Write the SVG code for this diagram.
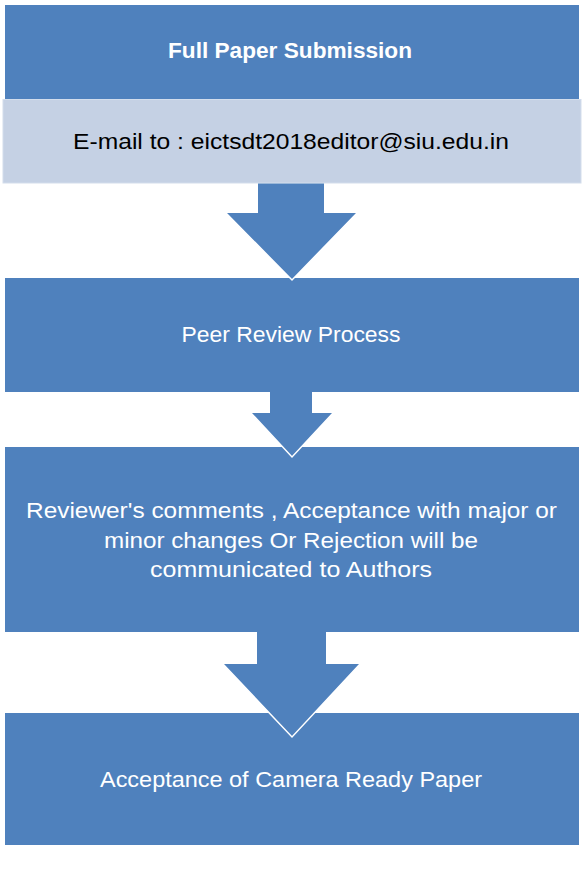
<svg xmlns="http://www.w3.org/2000/svg" width="584" height="877" viewBox="0 0 584 877">
<style>
.box{fill:#4F81BD}
.light{fill:#C5D1E4;stroke:#D3DDEC;stroke-width:1}
.arrow{fill:#4F81BD}
.edge{fill:none;stroke:#FFFFFF;stroke-width:1.5}
.t{font-family:"Liberation Sans",Arial,sans-serif;font-size:22px;fill:#FFFFFF;text-anchor:middle}
.b{font-weight:bold}
.dark{fill:#000000}
</style>
<rect width="584" height="877" fill="#FFFFFF"/>
<g id="node-submission">
<rect class="box" x="5" y="5" width="574" height="95"/>
<text class="t b" x="290" y="58" textLength="244" lengthAdjust="spacingAndGlyphs">Full Paper Submission</text>
</g>
<g id="node-email">
<rect class="light" x="3" y="99.5" width="578" height="83.5"/>
<text class="t dark" x="291" y="149" textLength="436" lengthAdjust="spacingAndGlyphs">E-mail to : eictsdt2018editor@siu.edu.in</text>
</g>
<g id="node-review">
<rect class="box" x="5" y="278" width="574" height="114"/>
<text class="t" x="291" y="342" textLength="219" lengthAdjust="spacingAndGlyphs">Peer Review Process</text>
</g>
<g id="node-comments">
<rect class="box" x="5" y="447" width="574" height="185"/>
<text class="t" x="291.5" y="518" textLength="531" lengthAdjust="spacingAndGlyphs">Reviewer's comments , Acceptance with major or</text>
<text class="t" x="291" y="548" textLength="374" lengthAdjust="spacingAndGlyphs">minor changes Or Rejection will be</text>
<text class="t" x="291" y="577" textLength="282" lengthAdjust="spacingAndGlyphs">communicated to Authors</text>
</g>
<g id="node-camera">
<rect class="box" x="5" y="713" width="574" height="132"/>
<text class="t" x="291" y="787" textLength="382" lengthAdjust="spacingAndGlyphs">Acceptance of Camera Ready Paper</text>
</g>
<g id="connectors">
<path class="arrow" d="M258,183.5 L324,183.5 L324,213 L357,213 L292,280 L226,213 L258,213 Z"/>
<path class="edge" d="M357,213 L292,280 L226,213"/>
<path class="arrow" d="M270,392 L312,392 L312,413 L333,413 L292,457 L251,413 L270,413 Z"/>
<path class="edge" d="M333,413 L292,457 L251,413"/>
<path class="arrow" d="M257,632 L326,632 L326,664 L360,664 L292,737 L223,664 L257,664 Z"/>
<path class="edge" d="M360,664 L292,737 L223,664"/>
</g>
</svg>
